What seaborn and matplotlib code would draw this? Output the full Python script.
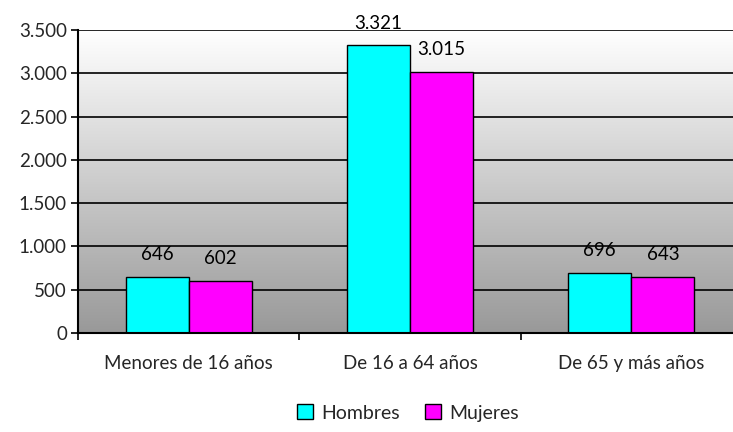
import numpy as np
import pandas as pd
import matplotlib
matplotlib.use("Agg")
import matplotlib.pyplot as plt
import matplotlib.ticker as mticker
from matplotlib.patches import Patch
import seaborn as sns

categories = ["Menores de 16 años", "De 16 a 64 años", "De 65 y más años"]
series_names = ["Hombres", "Mujeres"]
hombres = [646, 3321, 696]
mujeres = [602, 3015, 643]
colors = ["#00FFFF", "#FF00FF"]
y_ticks = [0, 500, 1000, 1500, 2000, 2500, 3000, 3500]

def fmt_es(v):
    return f"{int(round(v)):,}".replace(",", ".")

df = pd.DataFrame({
    "Grupo": categories * 2,
    "Sexo": [series_names[0]] * 3 + [series_names[1]] * 3,
    "Valor": hombres + mujeres,
})

sns.set_theme(style="white")
plt.rcParams["font.family"] = ["Lato", "DejaVu Sans"]
FS = 13.5

fig = plt.figure(figsize=(7.33, 4.32), dpi=100)
ax = fig.add_axes([78 / 733, 1 - 333 / 432, 664 / 733, 303 / 432])

# gradient background
grad = np.linspace(0, 1, 256).reshape(-1, 1)
cmap = matplotlib.colors.LinearSegmentedColormap.from_list("g", ["#999999", "#FFFFFF"])
ax.imshow(grad, extent=[0, 1, 0, 1], transform=ax.transAxes, cmap=cmap,
          aspect="auto", origin="lower", zorder=0)

sns.barplot(data=df, x="Grupo", y="Valor", hue="Sexo", palette=colors,
            saturation=1, width=0.57, edgecolor="black", linewidth=1.0, ax=ax,
            legend=False, zorder=3)

for cont in ax.containers:
    ax.bar_label(cont, labels=[fmt_es(v) for v in cont.datavalues],
                 padding=10, fontsize=FS, color="black")

ax.set_xlim(-0.5, 2.5)
ax.set_ylim(0, 3500)
ax.set_yticks(y_ticks)
ax.yaxis.set_major_formatter(mticker.FuncFormatter(lambda v, p: fmt_es(v)))
for yv in y_ticks[1:]:
    ax.axhline(yv, color="black", lw=1.2, zorder=1)

ax.set_xticks([0, 1, 2])
ax.set_xticklabels(categories)
ax.xaxis.set_minor_locator(mticker.FixedLocator([-0.5, 0.5, 1.5, 2.5]))
ax.tick_params(axis="x", which="major", length=0, pad=16, labelsize=FS)
ax.tick_params(axis="x", which="minor", length=5, width=1.2, color="black", direction="out", bottom=True)
ax.tick_params(axis="y", length=5, width=1.2, color="black", direction="out", left=True, labelsize=FS, pad=3)
ax.set_xlabel("")
ax.set_ylabel("")
for s in ["top", "right"]:
    ax.spines[s].set_visible(False)
for s in ["left", "bottom"]:
    ax.spines[s].set_color("black")
    ax.spines[s].set_linewidth(1.5)
    ax.spines[s].set_zorder(4)

handles = [Patch(facecolor=c, edgecolor="black", linewidth=1.0) for c in colors]
fig.legend(handles, series_names, loc="center", bbox_to_anchor=(0.557, 1 - 413 / 432),
           ncol=2, frameon=False, fontsize=14, handlelength=0.8, handleheight=0.8,
           handletextpad=0.45, columnspacing=1.3)

fig.savefig("out.png", dpi=100)
